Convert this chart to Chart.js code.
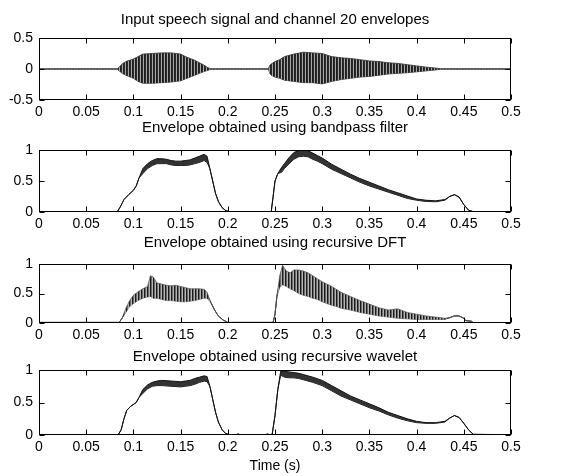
<!DOCTYPE html>
<html><head><meta charset="utf-8">
<script src="https://cdn.jsdelivr.net/npm/chart.js@4"></script>
<style>
html,body{margin:0;padding:0;background:#fff;}
#wrap{position:relative;width:582px;height:476px;background:#fff;}
#wrap canvas{position:absolute;left:0;top:0;}
</style></head><body>
<div id="wrap">
<canvas id="c1" width="582" height="476"></canvas>
<canvas id="c2" width="582" height="476"></canvas>
<canvas id="c3" width="582" height="476"></canvas>
<canvas id="c4" width="582" height="476"></canvas>
</div>
<script>
// ---------- tick values & labels ----------
const xTicks = [0, 0.05, 0.1, 0.15, 0.2, 0.25, 0.3, 0.35, 0.4, 0.45, 0.5];
const xTickLabels = ['0', '0.05', '0.1', '0.15', '0.2', '0.25', '0.3', '0.35', '0.4', '0.45', '0.5'];
const ySignalTicks = [-0.5, 0, 0.5];
const ySignalLabels = ['-0.5', '0', '0.5'];
const yEnvTicks = [0, 0.5, 1];
const yEnvLabels = ['0', '0.5', '1'];
const titles = [
  'Input speech signal and channel 20 envelopes',
  'Envelope obtained using bandpass filter',
  'Envelope obtained using recursive DFT',
  'Envelope obtained using recursive wavelet'
];
const xAxisLabel = 'Time (s)';

// ---------- panel 1: speech signal (upper / lower extent of oscillation) ----------
const speechT  = [0, 0.083, 0.085, 0.088, 0.092, 0.1, 0.105, 0.11, 0.12, 0.13, 0.14, 0.15, 0.155, 0.16, 0.165, 0.17, 0.175, 0.179, 0.182, 0.243, 0.2445, 0.246, 0.25, 0.255, 0.26, 0.27, 0.28, 0.29, 0.3, 0.31, 0.32, 0.33, 0.34, 0.35, 0.36, 0.37, 0.38, 0.39, 0.4, 0.41, 0.42, 0.425, 0.5];
const speechHi = [0.004, 0.004, 0.03, 0.08, 0.12, 0.16, 0.2, 0.24, 0.25, 0.26, 0.26, 0.24, 0.2, 0.17, 0.14, 0.1, 0.06, 0.02, 0.004, 0.004, 0.06, 0.08, 0.12, 0.15, 0.2, 0.24, 0.27, 0.26, 0.25, 0.2, 0.18, 0.17, 0.15, 0.13, 0.12, 0.1, 0.09, 0.07, 0.05, 0.03, 0.015, 0.004, 0.004];
const speechLo = [-0.004, -0.004, -0.03, -0.07, -0.1, -0.15, -0.2, -0.23, -0.23, -0.22, -0.21, -0.19, -0.16, -0.13, -0.1, -0.07, -0.04, -0.02, -0.004, -0.004, -0.07, -0.1, -0.13, -0.15, -0.18, -0.2, -0.22, -0.22, -0.24, -0.2, -0.17, -0.15, -0.13, -0.12, -0.1, -0.08, -0.07, -0.06, -0.045, -0.03, -0.015, -0.004, -0.004];

// ---------- panel 2: bandpass-filter envelope ----------
const bandT  = [0, 0.083, 0.086, 0.09, 0.095, 0.1, 0.103, 0.106, 0.11, 0.115, 0.12, 0.125, 0.13, 0.135, 0.14, 0.145, 0.15, 0.155, 0.16, 0.165, 0.17, 0.175, 0.178, 0.181, 0.184, 0.187, 0.19, 0.194, 0.198, 0.202, 0.246, 0.248, 0.25, 0.253, 0.257, 0.26, 0.265, 0.27, 0.275, 0.28, 0.285, 0.29, 0.295, 0.3, 0.31, 0.32, 0.33, 0.34, 0.35, 0.36, 0.37, 0.38, 0.39, 0.4, 0.41, 0.42, 0.43, 0.435, 0.44, 0.445, 0.45, 0.455, 0.46, 0.5];
const bandHi = [0.005, 0.005, 0.08, 0.2, 0.28, 0.35, 0.42, 0.55, 0.7, 0.78, 0.83, 0.86, 0.86, 0.85, 0.83, 0.82, 0.82, 0.83, 0.84, 0.87, 0.9, 0.93, 0.9, 0.7, 0.5, 0.3, 0.17, 0.07, 0.02, 0.005, 0.005, 0.25, 0.5, 0.62, 0.72, 0.78, 0.88, 0.96, 0.99, 1.0, 0.99, 0.95, 0.91, 0.87, 0.77, 0.69, 0.61, 0.54, 0.48, 0.42, 0.36, 0.31, 0.26, 0.21, 0.19, 0.18, 0.2, 0.25, 0.28, 0.24, 0.12, 0.03, 0.005, 0.005];
const bandLo = [0.005, 0.005, 0.08, 0.2, 0.28, 0.35, 0.42, 0.55, 0.62, 0.7, 0.75, 0.78, 0.78, 0.78, 0.76, 0.75, 0.75, 0.75, 0.76, 0.78, 0.8, 0.83, 0.8, 0.7, 0.5, 0.3, 0.17, 0.07, 0.02, 0.005, 0.005, 0.25, 0.5, 0.62, 0.64, 0.7, 0.78, 0.85, 0.89, 0.9, 0.89, 0.85, 0.82, 0.78, 0.69, 0.62, 0.55, 0.48, 0.42, 0.37, 0.32, 0.27, 0.22, 0.19, 0.17, 0.165, 0.19, 0.25, 0.28, 0.24, 0.12, 0.03, 0.005, 0.005];

// ---------- panel 3: recursive DFT envelope ----------
const dftT   = [0, 0.085, 0.088, 0.092, 0.096, 0.1, 0.105, 0.11, 0.115, 0.118, 0.121, 0.125, 0.13, 0.135, 0.14, 0.145, 0.15, 0.155, 0.16, 0.165, 0.17, 0.175, 0.178, 0.182, 0.186, 0.19, 0.195, 0.2, 0.248, 0.25, 0.252, 0.255, 0.258, 0.262, 0.266, 0.27, 0.275, 0.28, 0.285, 0.29, 0.295, 0.3, 0.305, 0.31, 0.315, 0.32, 0.33, 0.34, 0.35, 0.36, 0.37, 0.38, 0.39, 0.4, 0.41, 0.42, 0.43, 0.435, 0.44, 0.445, 0.45, 0.452, 0.458, 0.46, 0.5];
const dftHi  = [0.01, 0.01, 0.08, 0.25, 0.38, 0.47, 0.53, 0.58, 0.62, 0.8, 0.78, 0.68, 0.66, 0.64, 0.63, 0.64, 0.62, 0.6, 0.58, 0.58, 0.58, 0.57, 0.52, 0.35, 0.22, 0.12, 0.05, 0.01, 0.01, 0.15, 0.45, 0.8, 0.98, 0.88, 0.85, 0.9, 0.9, 0.88, 0.85, 0.8, 0.75, 0.7, 0.66, 0.62, 0.57, 0.52, 0.45, 0.38, 0.32, 0.26, 0.22, 0.24, 0.18, 0.15, 0.12, 0.1, 0.08, 0.09, 0.12, 0.12, 0.08, 0.04, 0.03, 0.005, 0.005];
const dftMid = [0.01, 0.01, 0.08, 0.2, 0.32, 0.4, 0.46, 0.5, 0.53, 0.58, 0.56, 0.55, 0.53, 0.52, 0.5, 0.5, 0.5, 0.48, 0.47, 0.48, 0.5, 0.5, 0.47, 0.35, 0.22, 0.12, 0.05, 0.01, 0.01, 0.15, 0.45, 0.7, 0.8, 0.75, 0.72, 0.7, 0.68, 0.65, 0.62, 0.6, 0.57, 0.54, 0.5, 0.46, 0.42, 0.38, 0.33, 0.28, 0.23, 0.19, 0.16, 0.15, 0.12, 0.1, 0.09, 0.08, 0.07, 0.09, 0.12, 0.12, 0.08, 0.04, 0.03, 0.005, 0.005];
const dftLo  = [0.01, 0.01, 0.08, 0.18, 0.28, 0.33, 0.38, 0.42, 0.44, 0.45, 0.42, 0.42, 0.4, 0.38, 0.38, 0.37, 0.36, 0.36, 0.37, 0.38, 0.4, 0.42, 0.42, 0.35, 0.22, 0.12, 0.05, 0.01, 0.01, 0.15, 0.45, 0.6, 0.65, 0.62, 0.58, 0.55, 0.5, 0.47, 0.45, 0.42, 0.4, 0.36, 0.33, 0.3, 0.28, 0.25, 0.22, 0.18, 0.15, 0.12, 0.1, 0.08, 0.07, 0.06, 0.06, 0.06, 0.06, 0.09, 0.12, 0.12, 0.08, 0.04, 0.03, 0.005, 0.005];

// ---------- panel 4: recursive wavelet envelope ----------
const waveT  = [0, 0.084, 0.087, 0.09, 0.093, 0.097, 0.1, 0.103, 0.106, 0.11, 0.115, 0.12, 0.125, 0.13, 0.14, 0.15, 0.155, 0.16, 0.165, 0.17, 0.175, 0.178, 0.181, 0.184, 0.187, 0.19, 0.194, 0.198, 0.202, 0.209, 0.211, 0.213, 0.24, 0.242, 0.244, 0.247, 0.25, 0.253, 0.256, 0.26, 0.265, 0.27, 0.275, 0.28, 0.29, 0.3, 0.31, 0.32, 0.33, 0.34, 0.35, 0.36, 0.37, 0.38, 0.39, 0.4, 0.41, 0.42, 0.43, 0.435, 0.44, 0.445, 0.45, 0.455, 0.46, 0.5];
const waveHi = [0.005, 0.005, 0.08, 0.25, 0.38, 0.44, 0.47, 0.5, 0.58, 0.7, 0.77, 0.81, 0.83, 0.84, 0.83, 0.82, 0.83, 0.84, 0.87, 0.89, 0.91, 0.9, 0.75, 0.55, 0.35, 0.2, 0.08, 0.02, 0.005, 0.005, 0.015, 0.005, 0.005, 0.015, 0.005, 0.01, 0.3, 0.7, 0.98, 0.98, 0.97, 0.96, 0.95, 0.93, 0.89, 0.84, 0.76, 0.68, 0.6, 0.54, 0.48, 0.42, 0.35, 0.3, 0.25, 0.21, 0.19, 0.19, 0.21, 0.26, 0.3, 0.27, 0.18, 0.08, 0.01, 0.005];
const waveLo = [0.005, 0.005, 0.08, 0.25, 0.38, 0.44, 0.47, 0.5, 0.58, 0.64, 0.71, 0.75, 0.76, 0.76, 0.75, 0.74, 0.75, 0.76, 0.78, 0.81, 0.83, 0.82, 0.75, 0.55, 0.35, 0.2, 0.08, 0.02, 0.005, 0.005, 0.015, 0.005, 0.005, 0.015, 0.005, 0.01, 0.3, 0.7, 0.92, 0.89, 0.88, 0.88, 0.87, 0.85, 0.81, 0.76, 0.68, 0.6, 0.54, 0.48, 0.42, 0.37, 0.31, 0.26, 0.22, 0.19, 0.18, 0.18, 0.2, 0.26, 0.3, 0.27, 0.18, 0.08, 0.01, 0.005];

// ---------- drawing ----------
const FONT = '"Liberation Sans", Arial, Helvetica, sans-serif';
const TICK_FONT = { family: FONT, size: 14 };
const TITLE_FONT = { family: FONT, size: 15, weight: 'normal', lineHeight: 1.2 };

// vertical-stripe fill that mimics densely drawn oscillations
function stripePattern(colors) {
  const c = document.createElement('canvas');
  c.width = colors.length; c.height = 1;
  const g = c.getContext('2d');
  colors.forEach((col, i) => { g.fillStyle = col; g.fillRect(i, 0, 1, 1); });
  return g.createPattern(c, 'repeat');
}

const matlabAxes = {
  id: 'matlabAxes',
  afterDatasetsDraw(chart) {
    const { ctx, chartArea: a, scales: { x, y } } = chart;
    const L = Math.round(a.left) + 0.5, R = Math.round(a.right) - 0.5;
    const T = Math.round(a.top) + 0.5, B = Math.round(a.bottom) - 0.5;
    const tl = 5;
    ctx.save();
    ctx.strokeStyle = '#000';
    ctx.lineWidth = 1;
    ctx.strokeRect(L, T, R - L, B - T);
    ctx.beginPath();
    x.ticks.forEach(t => {
      const px = Math.round(x.getPixelForValue(t.value)) + 0.5;
      ctx.moveTo(px, B); ctx.lineTo(px, B - tl);
      ctx.moveTo(px, T); ctx.lineTo(px, T + tl);
    });
    y.ticks.forEach(t => {
      const py = Math.round(y.getPixelForValue(t.value)) + 0.5;
      ctx.moveTo(L, py); ctx.lineTo(L + tl, py);
      ctx.moveTo(R, py); ctx.lineTo(R - tl, py);
    });
    ctx.stroke();
    ctx.restore();
  }
};

function pts(T, V) { return T.map((t, i) => ({ x: t, y: V[i] })); }

function band(T, hi, lo, fillColor, edgeColor, edgeWidth) {
  return [
    { data: pts(T, hi), borderColor: edgeColor, borderWidth: edgeWidth, backgroundColor: fillColor, fill: '+1', pointRadius: 0, tension: 0 },
    { data: pts(T, lo), borderColor: edgeColor, borderWidth: edgeWidth, fill: false, pointRadius: 0, tension: 0 }
  ];
}

function makePanel(id, p) {
  const xScale = {
    type: 'linear', min: 0, max: 0.5,
    afterBuildTicks: s => { s.ticks = xTicks.map(v => ({ value: v })); },
    ticks: { callback: (v, i) => xTickLabels[i], color: '#000', font: TICK_FONT, padding: 4, maxRotation: 0, autoSkip: false },
    grid: { display: false, drawTicks: false },
    border: { display: false },
    afterFit: s => { s.height = p.xAxisH; }
  };
  if (p.xTitle) {
    xScale.title = { display: true, text: p.xTitle, color: '#000', font: TICK_FONT, padding: { top: 0, bottom: 1.6 } };
  }
  return new Chart(document.getElementById(id), {
    type: 'line',
    data: { datasets: p.datasets },
    plugins: [matlabAxes],
    options: {
      responsive: false, animation: false, devicePixelRatio: 1,
      layout: { padding: { left: 0, right: 71, top: 0, bottom: p.padBottom } },
      plugins: {
        legend: { display: false }, tooltip: { enabled: false },
        title: { display: true, fullSize: false, text: p.title, color: '#000', font: TITLE_FONT, padding: { top: p.tTop, bottom: p.tBottom } }
      },
      scales: {
        x: xScale,
        y: {
          type: 'linear', min: p.yMin, max: p.yMax,
          afterBuildTicks: s => { s.ticks = p.yTicks.map(v => ({ value: v })); },
          ticks: { callback: (v, i) => p.yLabels[i], color: '#000', font: TICK_FONT, padding: 6, autoSkip: false },
          grid: { display: false, drawTicks: false },
          border: { display: false },
          afterFit: s => { s.width = 39; }
        }
      }
    }
  });
}

makePanel('c1', {
  datasets: band(speechT, speechHi, speechLo, stripePattern(['#1e1e1e', '#2a2a2a', '#a8a8a8']), '#3a3a3a', 0.9),
  title: titles[0], tTop: 11, tBottom: 9, padBottom: 356, xAxisH: 20,
  yMin: -0.5, yMax: 0.5, yTicks: ySignalTicks, yLabels: ySignalLabels
});
makePanel('c2', {
  datasets: band(bandT, bandHi, bandLo, '#333', '#111', 1),
  title: titles[1], tTop: 119, tBottom: 13, padBottom: 244, xAxisH: 20,
  yMin: 0, yMax: 1, yTicks: yEnvTicks, yLabels: yEnvLabels
});
makePanel('c3', {
  datasets: band(dftT, dftHi, dftLo, stripePattern(['#1a1a1a', '#6a6a6a', '#b4b4b4']), '#555', 0.7).concat([
    { data: pts(dftT, dftMid), borderColor: '#000', borderWidth: 1, fill: false, pointRadius: 0, tension: 0 }
  ]),
  title: titles[2], tTop: 234, tBottom: 12, padBottom: 133, xAxisH: 20,
  yMin: 0, yMax: 1, yTicks: yEnvTicks, yLabels: yEnvLabels
});
makePanel('c4', {
  datasets: band(waveT, waveHi, waveLo, '#333', '#111', 1),
  title: titles[3], tTop: 348, tBottom: 4, padBottom: 0, xAxisH: 41, xTitle: xAxisLabel,
  yMin: 0, yMax: 1, yTicks: yEnvTicks, yLabels: yEnvLabels
});
</script>
</body></html>
